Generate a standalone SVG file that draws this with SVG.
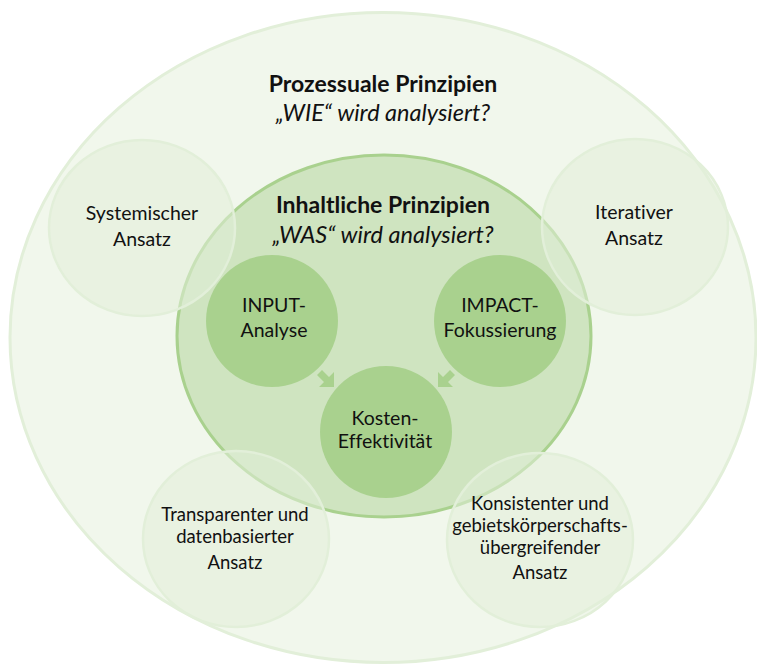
<svg xmlns="http://www.w3.org/2000/svg" width="757" height="666" viewBox="0 0 757 666">
<style>
text{font-family:Lato,"Open Sans","Liberation Sans",sans-serif;fill:#111;text-anchor:middle;font-variant-ligatures:none}
.t{font-size:19.5px}
.s{font-size:18.5px}
.h{font-size:23px;font-weight:bold}
.i{font-size:23.5px;font-style:italic}
.sat{fill:#e2efd9;fill-opacity:0.55;stroke:#e2efd9;stroke-width:2.5}
.core{fill:#a9d18e}
.arr{fill:#a9d18e}
</style>
<rect width="757" height="666" fill="#ffffff"/>
<g id="prozessual">
<ellipse cx="383" cy="337.5" rx="373" ry="325" fill="#f1f7ec" stroke="#e2efd9" stroke-width="3"/>
<text class="h" x="383" y="92">Prozessuale Prinzipien</text>
<text class="i" x="383" y="121">„WIE“ wird analysiert?</text>
</g>
<g id="inhaltlich">
<ellipse cx="384" cy="336" rx="207" ry="181" fill="#cfe4c0" stroke="#a9d18e" stroke-width="3"/>
<text class="h" x="383" y="213">Inhaltliche Prinzipien</text>
<text class="i" x="383" y="243">„WAS“ wird analysiert?</text>
</g>
<g id="input">
<circle class="core" cx="272" cy="321" r="66"/>
<text class="t" x="274" y="312">INPUT-</text>
<text class="t" x="274" y="337">Analyse</text>
</g>
<g id="impact">
<circle class="core" cx="500" cy="321" r="66"/>
<text class="t" x="500" y="312">IMPACT-</text>
<text class="t" x="500" y="337">Fokussierung</text>
</g>
<g id="kosten">
<circle class="core" cx="386" cy="432" r="66"/>
<text class="t" x="385" y="425">Kosten-</text>
<text class="t" x="385" y="448">Effektivität</text>
</g>
<g id="connectors">
<polygon class="arr" points="322,370 329,377 334,372 334,387 319,387 324,382 317,375"/>
<polygon class="arr" points="450,370 443,377 438,372 438,387 453,387 448,382 455,375"/>
</g>
<g id="systemisch">
<ellipse class="sat" cx="142" cy="228" rx="93" ry="88"/>
<text class="t" x="142" y="220">Systemischer</text>
<text class="t" x="142" y="246">Ansatz</text>
</g>
<g id="iterativ">
<ellipse class="sat" cx="635" cy="227" rx="93" ry="88"/>
<text class="t" x="634" y="219">Iterativer</text>
<text class="t" x="634" y="245">Ansatz</text>
</g>
<g id="transparent">
<ellipse class="sat" cx="236" cy="539" rx="93" ry="88"/>
<text class="s" x="235" y="521">Transparenter und</text>
<text class="s" x="235" y="543">datenbasierter</text>
<text class="s" x="235" y="569">Ansatz</text>
</g>
<g id="konsistent">
<ellipse class="sat" cx="540" cy="540" rx="93" ry="87"/>
<text class="s" x="540" y="510">Konsistenter und</text>
<text class="s" x="540" y="532">gebietskörperschafts-</text>
<text class="s" x="540" y="554">übergreifender</text>
<text class="s" x="540" y="579">Ansatz</text>
</g>
</svg>
